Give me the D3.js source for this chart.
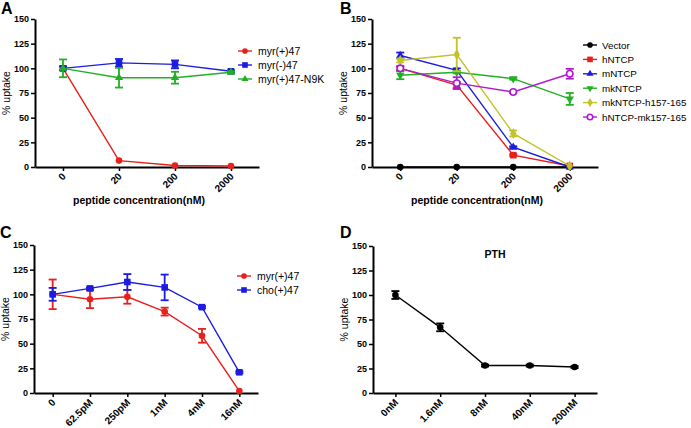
<!DOCTYPE html>
<html>
<head>
<meta charset="utf-8">
<script src="https://cdn.jsdelivr.net/npm/d3@7"></script>
<style>
  html, body { margin: 0; padding: 0; background: #fff; }
  svg { display: block; font-family: Arial, "Liberation Sans", sans-serif; }
</style>
</head>
<body>
<svg id="chart" width="691" height="428"></svg>
<script>
// ---------- DATA ----------
const yTicks = [0, 25, 50, 75, 100, 125, 150];

// Panel A
const catsA = ["0", "20", "200", "2000"];
const namesA = ["myr(+)47", "myr(-)47", "myr(+)47-N9K"];
const myrPlus47A = [100, 6.5, 1.5, 1];
const myrPlus47A_err = [0, 0, 0, 0];
const myrMinus47A = [100, 105.5, 104, 97];
const myrMinus47A_err = [2, 4, 4, 1];
const myrN9KA = [100, 90.5, 90.5, 96];
const myrN9KA_err = [9, 10, 6, 1];

// Panel B
const catsB = ["0", "20", "200", "2000"];
const namesB = ["Vector", "hNTCP", "mNTCP", "mkNTCP", "mkNTCP-h157-165", "hNTCP-mk157-165"];
const vectorB = [0, 0, 0, 0];
const vectorB_err = [0, 0, 0, 0];
const hNTCPB = [100, 83, 12, 1];
const hNTCPB_err = [2, 3, 1, 0];
const mNTCPB = [113, 98, 20, 0];
const mNTCPB_err = [3, 2, 1, 0];
const mkNTCPB = [93, 96, 89.5, 69];
const mkNTCPB_err = [4, 1, 1, 6];
const mkNTCPh157B = [108, 114, 34, 1];
const mkNTCPh157B_err = [2, 17, 3, 0];
const hNTCPmk157B = [100, 85, 76, 94.5];
const hNTCPmk157B_err = [2, 6, 1, 5];

// Panel C
const catsC = ["0", "62.5pM", "250pM", "1nM", "4nM", "16nM"];
const namesC = ["myr(+)47", "cho(+)47"];
const myrPlus47C = [100, 95, 97.5, 82.5, 58, 2];
const myrPlus47C_err = [15, 9, 7, 4, 7, 0];
const cho47C = [100, 106, 112.5, 107, 87, 21];
const cho47C_err = [6.5, 1, 8, 13, 1, 1];

// Panel D
const catsD = ["0nM", "1.6nM", "8nM", "40nM", "200nM"];
const pthD = [100, 67, 28, 28, 26.5];
const pthD_err = [4, 4, 1, 1, 1];

// ---------- STYLE ----------
const RED = "#e8201c", BLUE = "#1c1ce0", GREEN = "#22b022", BLACK = "#000000",
      OLIVE = "#c2c22a", PURPLE = "#b01ad0";

const svg = d3.select("#chart");

function marker(g, type, color, size) {
  const s = size || 1;
  switch (type) {
    case "circle":
      g.append("circle").attr("r", 3.3 * s).attr("fill", color);
      break;
    case "ocircle":
      g.append("circle").attr("r", 3.2 * s).attr("fill", "#fff").attr("stroke", color).attr("stroke-width", 1.6);
      break;
    case "square":
      g.append("rect").attr("x", -3.3 * s).attr("y", -3.3 * s).attr("width", 6.6 * s).attr("height", 6.6 * s).attr("fill", color);
      break;
    case "tri":
      g.append("path").attr("d", d3.symbol(d3.symbolTriangle, 30 * s * s)()).attr("fill", color);
      break;
    case "trid":
      g.append("path").attr("d", d3.symbol(d3.symbolTriangle, 30 * s * s)()).attr("transform", "rotate(180)").attr("fill", color);
      break;
    case "diamond":
      g.append("path").attr("d", d3.symbol(d3.symbolDiamond, 34 * s * s)()).attr("fill", color);
      break;
  }
}

function panel(opts) {
  const g = svg.append("g");
  const x = d3.scalePoint().domain(opts.cats).range([opts.x0, opts.x1]).padding(0.5);
  const y = d3.scaleLinear().domain([0, 150]).range([opts.yBot, opts.yTop]);

  // panel letter
  g.append("text").attr("x", opts.lx).attr("y", opts.ly)
    .attr("font-size", 16).attr("font-weight", "bold").text(opts.letter);

  // y axis
  const ya = g.append("g").attr("transform", `translate(${opts.x0},0)`)
    .call(d3.axisLeft(y).tickValues(yTicks).tickSize(4).tickSizeOuter(0).tickPadding(2));
  ya.select(".domain").attr("stroke-width", 2).attr("stroke", "#000");
  ya.selectAll(".tick line").attr("stroke-width", 1.5);
  ya.selectAll("text").attr("font-size", 9).attr("font-weight", "bold")
    .attr("font-family", "Arial, 'Liberation Sans', sans-serif").attr("fill", "#000");

  // x axis
  const xa = g.append("g").attr("transform", `translate(0,${opts.yBot})`)
    .call(d3.axisBottom(x).tickSize(4).tickSizeOuter(0));
  xa.select(".domain").attr("stroke-width", 2).attr("stroke", "#000");
  xa.selectAll(".tick line").attr("stroke-width", 1.5);
  xa.selectAll("text").attr("font-size", 10).attr("font-weight", "bold")
    .attr("font-family", "Arial, 'Liberation Sans', sans-serif").attr("fill", "#000")
    .attr("text-anchor", "end").attr("dy", null).attr("y", 0)
    .attr("transform", "translate(3,10) rotate(-45)");

  // y label
  g.append("text").attr("transform", `translate(${opts.x0 - 25},${(opts.yTop + opts.yBot) / 2}) rotate(-90)`)
    .attr("text-anchor", "middle").attr("font-size", 10.5).text("% uptake");

  // x label
  if (opts.xlabel) {
    g.append("text").attr("x", (opts.x0 + opts.x1) / 2 - 8).attr("y", opts.yBot + 37)
      .attr("text-anchor", "middle").attr("font-size", 10.5).attr("font-weight", "bold").text(opts.xlabel);
  }
  if (opts.title) {
    g.append("text").attr("x", opts.titleX).attr("y", opts.yTop + 12)
      .attr("text-anchor", "middle").attr("font-size", 10.5).attr("font-weight", "bold").text(opts.title);
  }

  // series
  opts.series.forEach(s => {
    const pts = opts.cats.map((c, i) => ({ c, v: s.values[i], e: s.err[i] }));
    const sg = g.append("g");
    sg.append("path").datum(pts)
      .attr("d", d3.line().x(d => x(d.c)).y(d => y(d.v)))
      .attr("fill", "none").attr("stroke", s.color).attr("stroke-width", 1.4);
    pts.forEach(d => {
      if (d.e > 0) {
        const cx = x(d.c), y1 = y(d.v + d.e), y2 = y(d.v - d.e);
        sg.append("line").attr("x1", cx).attr("x2", cx).attr("y1", y1).attr("y2", y2)
          .attr("stroke", s.color).attr("stroke-width", 1.8);
        [y1, y2].forEach(yy => sg.append("line").attr("x1", cx - 4).attr("x2", cx + 4)
          .attr("y1", yy).attr("y2", yy).attr("stroke", s.color).attr("stroke-width", 1.8));
      }
      const mg = sg.append("g").attr("transform", `translate(${x(d.c)},${y(d.v)})`);
      marker(mg, s.marker, s.color);
    });
  });

  // legend
  if (opts.legend) {
    const L = opts.legend;
    const lg = g.append("g");
    opts.series.forEach((s, i) => {
      const yy = L.y + i * L.dy;
      lg.append("line").attr("x1", L.x).attr("x2", L.x + 14)
        .attr("y1", yy).attr("y2", yy).attr("stroke", s.color).attr("stroke-width", 1.4);
      const mg = lg.append("g").attr("transform", `translate(${L.x + 7},${yy})`);
      marker(mg, s.marker, s.color, 0.85);
      lg.append("text").attr("x", L.x + L.gap).attr("y", yy + 3.6)
        .attr("font-size", L.fs).text(s.name);
    });
  }
}

panel({
  letter: "A", lx: 1, ly: 14,
  cats: catsA, x0: 35, x1: 259, yTop: 19, yBot: 167,
  xlabel: "peptide concentration(nM)",
  series: [
    { name: namesA[0], values: myrPlus47A, err: myrPlus47A_err, color: RED, marker: "circle" },
    { name: namesA[1], values: myrMinus47A, err: myrMinus47A_err, color: BLUE, marker: "square" },
    { name: namesA[2], values: myrN9KA, err: myrN9KA_err, color: GREEN, marker: "tri" }
  ],
  legend: { x: 238, y: 51, dy: 14, gap: 20, fs: 10.5 }
});

panel({
  letter: "B", lx: 340, ly: 14,
  cats: catsB, x0: 372, x1: 598, yTop: 19, yBot: 167,
  xlabel: "peptide concentration(nM)",
  series: [
    { name: namesB[0], values: vectorB, err: vectorB_err, color: BLACK, marker: "circle" },
    { name: namesB[1], values: hNTCPB, err: hNTCPB_err, color: RED, marker: "square" },
    { name: namesB[2], values: mNTCPB, err: mNTCPB_err, color: BLUE, marker: "tri" },
    { name: namesB[3], values: mkNTCPB, err: mkNTCPB_err, color: GREEN, marker: "trid" },
    { name: namesB[4], values: mkNTCPh157B, err: mkNTCPh157B_err, color: OLIVE, marker: "diamond" },
    { name: namesB[5], values: hNTCPmk157B, err: hNTCPmk157B_err, color: PURPLE, marker: "ocircle" }
  ],
  legend: { x: 583, y: 45, dy: 14.4, gap: 19, fs: 9.8 }
});

panel({
  letter: "C", lx: 0, ly: 238,
  cats: catsC, x0: 34, x1: 258, yTop: 245, yBot: 393,
  series: [
    { name: namesC[0], values: myrPlus47C, err: myrPlus47C_err, color: RED, marker: "circle" },
    { name: namesC[1], values: cho47C, err: cho47C_err, color: BLUE, marker: "square" }
  ],
  legend: { x: 237, y: 276, dy: 14, gap: 20, fs: 10.5 }
});

panel({
  letter: "D", lx: 340, ly: 238,
  cats: catsD, x0: 373, x1: 597, yTop: 246, yBot: 393,
  title: "PTH", titleX: 495,
  series: [
    { name: "PTH", values: pthD, err: pthD_err, color: BLACK, marker: "circle" }
  ]
});
</script>
</body>
</html>
